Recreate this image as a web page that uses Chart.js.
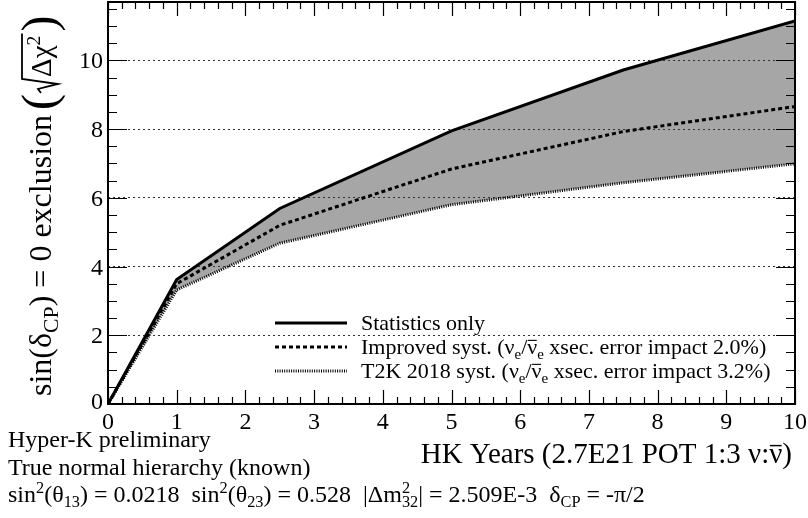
<!DOCTYPE html>
<html>
<head>
<meta charset="utf-8">
<script src="https://cdn.jsdelivr.net/npm/chart.js@4.4.1/dist/chart.umd.min.js"></script>
<style>
html,body{margin:0;padding:0;background:#fff;}
#wrap{width:808px;height:518px;position:relative;}
</style>
</head>
<body>
<div id="wrap"><canvas id="c" width="808" height="518"></canvas></div>
<script>
// ---- data ----
const years = [0, 1, 2.5, 5, 7.5, 10];
const statOnly = [0, 3.62, 5.69, 7.95, 9.72, 11.15];
const improvedSyst = [0, 3.5, 5.2, 6.84, 7.93, 8.66];
const t2k2018Syst = [0, 3.32, 4.68, 5.8, 6.44, 6.99];
const xTicks = [0,1,2,3,4,5,6,7,8,9,10];
const yTicks = [0,2,4,6,8,10];
const seriesNames = ['Statistics only', 'Improved syst.', 'T2K 2018 syst.'];

const SERIF = '"Liberation Serif","DejaVu Serif",serif';

function toXY(xs, ys){ return xs.map((x,i)=>({x:x, y:ys[i]})); }

function segFont(s, fs){
  return (s.sub||s.sup) ? fs*0.68 : (s.big ? fs*s.big : fs);
}
function richWidth(ctx, segs, fs){
  let w = 0;
  for (const s of segs){
    ctx.font = segFont(s, fs) + 'px ' + SERIF;
    w += ctx.measureText(s.t).width + (s.dx||0);
  }
  return w;
}
function drawRich(ctx, x, y, segs, fs, align){
  let w = richWidth(ctx, segs, fs);
  let cx = x;
  if (align === 'right') cx = x - w;
  else if (align === 'center') cx = x - w/2;
  ctx.textBaseline = 'alphabetic';
  ctx.textAlign = 'left';
  for (const s of segs){
    const f = segFont(s, fs);
    ctx.font = f + 'px ' + SERIF;
    let yy = y;
    if (s.sub) yy = y + fs*0.22;
    if (s.sup) yy = y - fs*0.38;
    const tw = ctx.measureText(s.t).width;
    ctx.fillText(s.t, cx, yy);
    if (s.bar){
      ctx.save();
      ctx.lineWidth = Math.max(1, fs*0.05);
      ctx.beginPath();
      const by = yy - f*(s.barH||0.56);
      ctx.moveTo(cx + tw*0.05, by); ctx.lineTo(cx + tw*0.95, by);
      ctx.stroke();
      ctx.restore();
    }
    cx += tw + (s.dx||0);
  }
  return w;
}

const decor = {
  id: 'decor',
  afterDraw(chart){
    const ctx = chart.ctx;
    const xs = chart.scales.x, ys = chart.scales.y;
    const L = chart.chartArea.left, R = chart.chartArea.right, T = chart.chartArea.top, B = chart.chartArea.bottom;
    ctx.save();
    ctx.strokeStyle = '#000'; ctx.fillStyle = '#000';
    // frame
    ctx.lineWidth = 2;
    ctx.strokeRect(L, T, R-L, B-T);
    // x ticks
    ctx.lineWidth = 1.2;
    ctx.beginPath();
    for (let v = 0; v <= 10.001; v += 0.2){
      const px = Math.round(xs.getPixelForValue(v)) + 0.5;
      const major = Math.abs(v - Math.round(v)) < 1e-6;
      const len = major ? 14 : 7;
      ctx.moveTo(px, B); ctx.lineTo(px, B - len);
      ctx.moveTo(px, T); ctx.lineTo(px, T + len);
    }
    // y ticks
    for (let v = 0; v <= 11.7; v += 0.5){
      const py = Math.round(ys.getPixelForValue(v)) + 0.5;
      const major = Math.abs(v/2 - Math.round(v/2)) < 1e-6;
      const len = major ? 19 : 9;
      ctx.moveTo(L, py); ctx.lineTo(L + len, py);
      ctx.moveTo(R, py); ctx.lineTo(R - len, py);
    }
    ctx.stroke();

    // tick labels
    ctx.font = '24px ' + SERIF;
    ctx.textAlign = 'center'; ctx.textBaseline = 'alphabetic';
    xTicks.forEach(v => {
      ctx.fillText(String(v), xs.getPixelForValue(v), B + 25);
    });
    ctx.textAlign = 'right';
    yTicks.forEach(v => {
      ctx.fillText(String(v), L - 5, ys.getPixelForValue(v) + (v===0 ? 5 : 8));
    });

    // x title
    drawRich(ctx, R - 3, 463, [
      {t:'HK Years (2.7E21 POT 1:3 \u03BD:'},
      {t:'\u03BD', bar:true, barH:0.6},
      {t:')'}
    ], 29, 'right');

    // bottom texts
    const bfs = 24;
    drawRich(ctx, 8, 447, [{t:'Hyper-K preliminary'}], bfs, 'left');
    drawRich(ctx, 8, 475, [{t:'True normal hierarchy (known)'}], bfs, 'left');
    drawRich(ctx, 8, 502, [
      {t:'sin'},{t:'2', sup:true},{t:'(\u03B8'},{t:'13', sub:true},{t:') = 0.0218  sin'},
      {t:'2', sup:true},{t:'(\u03B8'},{t:'23', sub:true},{t:') = 0.528  |\u0394m'},
      {t:'2', sup:true, dx:-bfs*0.34},{t:'32', sub:true},{t:'| = 2.509E-3  \u03B4'},{t:'CP', sub:true},{t:' = -\u03C0/2'}
    ], bfs, 'left');

    // legend
    const legX1 = 275, legX2 = 347, legTX = 361;
    const rows = [323, 347, 371];
    ctx.lineCap = 'butt';
    ctx.lineWidth = 3;
    ctx.setLineDash([]);
    ctx.beginPath(); ctx.moveTo(legX1, rows[0]); ctx.lineTo(legX2, rows[0]); ctx.stroke();
    ctx.setLineDash([4,3]);
    ctx.beginPath(); ctx.moveTo(legX1, rows[1]); ctx.lineTo(legX2, rows[1]); ctx.stroke();
    ctx.setLineDash([1,1.3]);
    ctx.beginPath(); ctx.moveTo(legX1, rows[2]); ctx.lineTo(legX2, rows[2]); ctx.stroke();
    ctx.setLineDash([]);
    const lfs = 22;
    drawRich(ctx, legTX, rows[0] + 7, [{t:seriesNames[0]}], lfs, 'left');
    drawRich(ctx, legTX, rows[1] + 7, [
      {t:seriesNames[1] + ' (\u03BD'},{t:'e', sub:true},{t:'/'},{t:'\u03BD', bar:true, barH:0.62},{t:'e', sub:true},{t:' xsec. error impact 2.0%)'}
    ], lfs, 'left');
    drawRich(ctx, legTX, rows[2] + 7, [
      {t:seriesNames[2] + ' (\u03BD'},{t:'e', sub:true},{t:'/'},{t:'\u03BD', bar:true, barH:0.62},{t:'e', sub:true},{t:' xsec. error impact 3.2%)'}
    ], lfs, 'left');

    // y title (rotated)
    ctx.save();
    ctx.translate(51, 396);
    ctx.rotate(-Math.PI/2);
    const yfs = 32;
    const w1 = drawRich(ctx, 0, 0, [
      {t:'sin(\u03B4'},{t:'CP', sub:true},{t:') = 0 exclusion'}
    ], yfs, 'left');
    let cx = w1 + 5;
    const pf = 48;
    ctx.font = pf + 'px ' + SERIF;
    ctx.fillText('(', cx, 4);
    cx += ctx.measureText('(').width + 1;
    // radical
    const rf = 29;
    const w2probe = richWidth(ctx, [{t:'\u0394\u03C7'},{t:'2', sup:true}], rf);
    ctx.lineWidth = 1.8;
    ctx.beginPath();
    ctx.moveTo(cx, -10);
    ctx.lineTo(cx + 4, -13);
    ctx.lineTo(cx + 9, 7);
    ctx.lineTo(cx + 14, -29);
    ctx.lineTo(cx + 16 + w2probe + 2, -29);
    ctx.stroke();
    cx += 16;
    const w2 = drawRich(ctx, cx, 0, [{t:'\u0394\u03C7'},{t:'2', sup:true}], rf, 'left');
    cx += w2 + 4;
    ctx.font = pf + 'px ' + SERIF;
    ctx.fillText(')', cx, 4);
    ctx.restore();

    ctx.restore();
  }
};

const ctx = document.getElementById('c').getContext('2d');
new Chart(ctx, {
  type: 'line',
  data: {
    datasets: [
      { label: seriesNames[0], data: toXY(years, statOnly), borderColor: '#000', borderWidth: 3,
        pointRadius: 0, fill: '+2', backgroundColor: '#a6a6a6', tension: 0, order: 3 },
      { label: seriesNames[1], data: toXY(years, improvedSyst), borderColor: '#000', borderWidth: 3,
        borderDash: [4,3], pointRadius: 0, fill: false, tension: 0, order: 1 },
      { label: seriesNames[2], data: toXY(years, t2k2018Syst), borderColor: '#000', borderWidth: 3,
        borderDash: [1,1.3], pointRadius: 0, fill: false, tension: 0, order: 2 }
    ]
  },
  options: {
    responsive: false,
    animation: false,
    devicePixelRatio: 1,
    layout: { padding: { left: 108, right: 13, top: 2, bottom: 114 } },
    plugins: { legend: { display: false }, tooltip: { enabled: false }, title: { display: false },
               filler: { drawTime: 'beforeDraw' } },
    scales: {
      x: { type: 'linear', min: 0, max: 10,
           ticks: { display: false, stepSize: 1 },
           grid: { display: false, drawTicks: false },
           border: { display: false } },
      y: { type: 'linear', min: 0, max: 11.7,
           ticks: { display: false, stepSize: 2 },
           grid: { display: true, drawTicks: false, color: '#333', lineWidth: 1 },
           border: { display: false, dash: [2,3] } }
    }
  },
  plugins: [decor]
});
</script>
</body>
</html>
